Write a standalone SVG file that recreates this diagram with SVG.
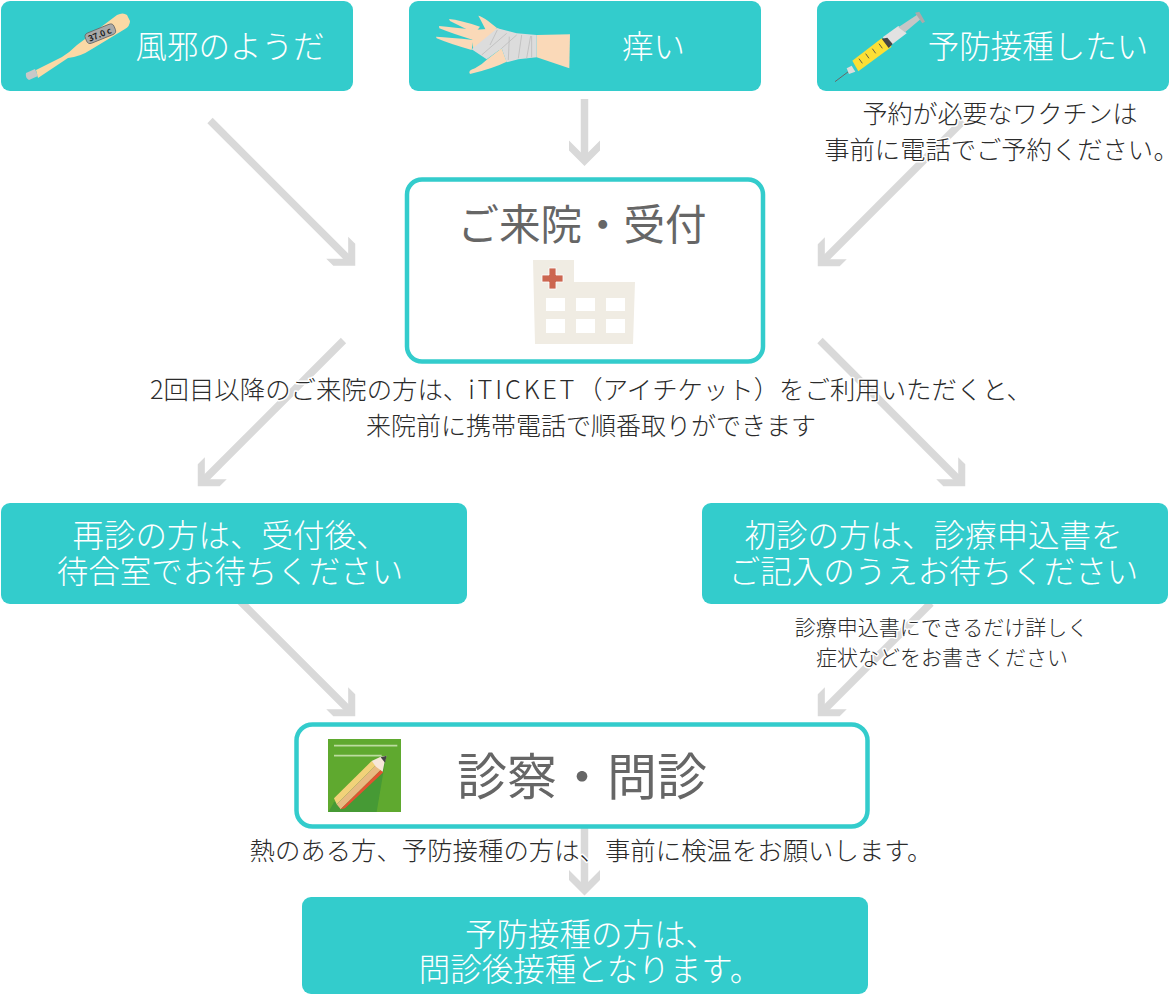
<svg xmlns="http://www.w3.org/2000/svg" width="1170" height="1000" viewBox="0 0 1170 1000">
<style>
text{font-family:"Noto Sans CJK JP","Noto Sans",sans-serif;text-anchor:middle;font-weight:300}
.fill{fill:#33cccc}
.line{fill:#fff;stroke:#33cccc;stroke-width:4.5}
.w{fill:#fff;font-size:31.5px}
.h{fill:#666;font-weight:400}
.c{fill:#2b2b2b;font-size:25px;stroke:#fff;stroke-width:3;paint-order:stroke;stroke-linejoin:round}
.c2{font-size:21px}
.lat{letter-spacing:2.800px}
.palt{font-feature-settings:"palt"}
.conn{stroke:#d9d9d9;stroke-width:7.5;fill:none;marker-end:url(#head)}
</style>
<defs>
<marker id="head" markerUnits="userSpaceOnUse" markerWidth="27" markerHeight="34" refX="20" refY="17" orient="auto" viewBox="0 0 27 34">
<polygon points="26,17 10.500,32.500 0.500,32.500 16,17 0.500,1.500 10.500,1.500" fill="#d9d9d9"/>
</marker>
</defs>
<rect width="1170" height="1000" fill="#fff"/>
<g id="connectors">
<line class="conn" x1="210" y1="120.500" x2="351" y2="261.500"/>
<line class="conn" x1="584.500" y1="99" x2="584.500" y2="160"/>
<line class="conn" x1="963" y1="121" x2="822" y2="262"/>
<line class="conn" x1="343.500" y1="340.500" x2="202" y2="482"/>
<line class="conn" x1="820" y1="340.500" x2="961" y2="482"/>
<line class="conn" x1="240" y1="601" x2="351" y2="712"/>
<line class="conn" x1="931" y1="603" x2="822" y2="712"/>
<line class="conn" x1="584.500" y1="826" x2="584.500" y2="889.500"/>
</g>
<g id="node-cold">
<rect class="fill" x="1" y="1" width="352" height="90" rx="9"/>
<path d="M36,70L62,57Q70,52 77,45L117,15Q123,12 127,15L130,21Q130,26 125,29L92,49Q80,57 68,58L38,78Z" fill="#fbd9a5"/>
<path d="M26,73L35,69L38,76L29,80Q25,78 26,73Z" fill="#c8c8c8"/>
<rect x="85" y="28" width="31" height="11" rx="4" transform="rotate(-22 101 34)" fill="#a9a9a9" stroke="#666" stroke-width=".8"/>
<text x="100" y="37.500" font-size="8.500" transform="rotate(-22 100 35)" style="fill:#222;font-weight:700">37.0 c</text>
<text class="w" x="230" y="58">風邪のようだ</text>
</g>
<g id="node-itch">
<rect class="fill" x="409" y="1" width="352" height="90" rx="9"/>
<g transform="translate(410 0) scale(.3333)">
<g fill="#fad9b8">
<path d="M205,47Q218,48 262,85L230,95Q215,65 205,47Z"/>
<path d="M117,57Q150,60 210,80L195,100Q150,78 120,63Z"/>
<path d="M87,78Q130,82 200,90L190,120Q130,102 88,85Z"/>
<path d="M78,110Q120,112 190,120L185,150Q120,132 80,115Z"/>
<path d="M185,90L265,85L270,150L190,150Z"/>
<path d="M232,178L275,145L290,185Q250,205 180,222Q172,212 195,205Q215,195 232,178Z"/>
<path d="M380,105L480,103L478,205L380,172Z"/>
</g>
<path d="M262,85L320,100L380,105L380,172L325,178L290,187L275,145L230,178L185,148Z" fill="#dcdcdc"/>
<path d="M215,165L290,100M240,135L262,90M275,145L320,105M295,180L298,110M325,175L335,105M350,175L362,108M365,172V108" stroke="#bdbdbd" stroke-width="2.500" fill="none"/>
</g>
<text class="w" x="653.500" y="58">痒い</text>
</g>
<g id="node-vaccine">
<rect class="fill" x="817" y="1" width="352" height="90" rx="9"/>
<g transform="translate(810 0) scale(.3333)">
<path d="M75,245L115,215" stroke="#666" stroke-width="3"/>
<path d="M110,205L125,197L136,215L117,222Z" fill="#ddd"/>
<path d="M127,182L215,115L245,140L145,214Z" fill="#fbdf35"/>
<path d="M218,112L265,78L290,100L240,138Z" fill="#e2e2e2"/>
<path d="M265,82L325,42L335,55L285,97Z" fill="#c6c6c6"/>
<path d="M315,38L328,35L345,65L337,70Z" fill="#aaa"/>
<path d="M215,116L232,113L248,132L236,144Z" fill="#444"/>
<path d="M147,176L157,190M167,161L177,175M187,146L197,160M207,131L217,145" stroke="#444" stroke-width="2.500"/>
</g>
<text class="w" x="1038" y="58">予防接種したい</text>
</g>
<g id="note-vaccine">
<text class="c" x="1000" y="123">予約が必要なワクチンは</text>
<text class="c" x="995" y="159" style="font-size:25.3px">事前に電話でご予約ください<tspan class="palt">。</tspan></text>
</g>
<g id="node-reception">
<rect class="line" x="407" y="179.500" width="356" height="182" rx="15"/>
<text class="h" x="582" y="240" font-size="41.500">ご来院・受付</text>
<path d="M533,260H574V282H635L633,344H535Z" fill="#f0ece3"/>
<g fill="#fff">
<rect x="546" y="298" width="19" height="13"/><rect x="576" y="298" width="19" height="13"/><rect x="606" y="298" width="19" height="13"/>
<rect x="546" y="319" width="19" height="14"/><rect x="576" y="319" width="19" height="14"/><rect x="606" y="319" width="19" height="14"/>
</g>
<path d="M549,268h7v7h7v7h-7v7h-7v-7h-7v-7h7Z" fill="#cc6650" stroke="#fff" stroke-width=".8"/>
</g>
<g id="note-iticket">
<text class="c" x="591" y="399" style="font-size:25.4px">2回目以降のご来院の方は、<tspan class="lat">iTICKET</tspan>（アイチケット）をご利用いただくと、</text>
<text class="c" x="591" y="435">来院前に携帯電話で順番取りができます</text>
</g>
<g id="node-return">
<rect class="fill" x="1" y="503" width="466" height="101" rx="9"/>
<text class="w" x="230" y="547">再診の方は、受付後、</text>
<text class="w" x="230" y="583">待合室でお待ちください</text>
</g>
<g id="node-first">
<rect class="fill" x="702" y="503" width="466" height="101" rx="9"/>
<text class="w" x="933.500" y="547">初診の方は、診療申込書を</text>
<text class="w" x="933.500" y="583">ご記入のうえお待ちください</text>
</g>
<g id="note-form">
<text class="c c2" x="941.500" y="635">診療申込書にできるだけ詳しく</text>
<text class="c c2" x="942" y="665">症状などをお書きください</text>
</g>
<g id="node-exam">
<rect class="line" x="296.500" y="724.500" width="571" height="102" rx="16"/>
<rect x="328" y="739" width="73" height="73" fill="#5fa92f"/>
<g transform="translate(290 715) scale(.3333)">
<path d="M288,125L260,291H115L132,262Z" fill="#469a35"/>
<path d="M132,92H322M132,122H275" stroke="#bcdc9f" stroke-width="5"/>
<path d="M245,138L132,250L140,268L258,150Z" fill="#f2d279"/>
<path d="M258,150L140,268L152,283L272,165Z" fill="#e8bb82"/>
<path d="M272,165L152,283L165,280L280,172Z" fill="#e25331"/>
<path d="M245,138L272,125L290,122L283,145L278,170L258,155Z" fill="#f7e7d9"/>
<path d="M272,127L290,122L285,143Z" fill="#444"/>
</g>
<text class="h" x="582" y="795" font-size="50">診察・問診</text>
</g>
<g id="note-temp">
<text class="c" x="591" y="860" style="font-size:25.4px">熱のある方、予防接種の方は、事前に検温をお願いします。</text>
</g>
<g id="node-vaccination">
<rect class="fill" x="302" y="897" width="566" height="97" rx="9"/>
<text class="w" x="591" y="946">予防接種の方は、</text>
<text class="w" x="590" y="981">問診後接種となります。</text>
</g>
</svg>
